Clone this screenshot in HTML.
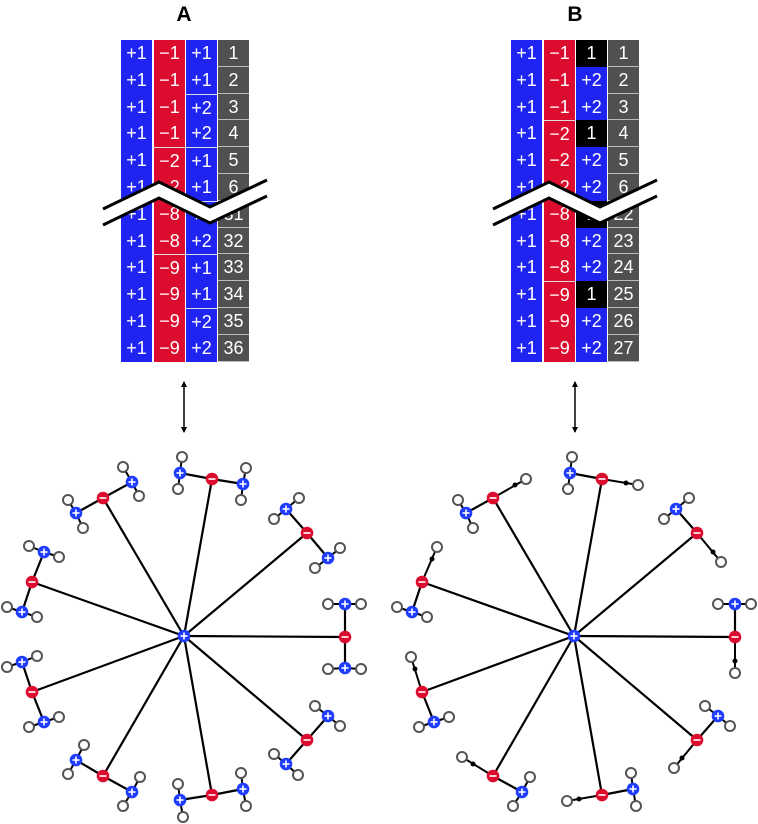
<!DOCTYPE html>
<html><head><meta charset="utf-8"><style>
html,body{margin:0;padding:0;background:#fff;width:758px;height:824px;overflow:hidden;position:relative;font-family:"Liberation Sans",sans-serif}
.h{position:absolute;top:3px;font-weight:bold;font-size:21px;width:40px;text-align:center}
.tbl{position:absolute;top:40px}
.col{position:absolute;top:0;width:31px}
.c{height:26.8px;line-height:26.8px;text-align:center;color:#fff;font-size:18px;box-sizing:border-box}
.b{background:#1f24f2}.r{background:#dc0c2e}.g{background:#505050;border-bottom:1px solid #bbb}.k{background:#000}
.sep{border-top:1px solid #ddd}
svg{position:absolute;left:0;top:0}
</style></head><body>
<div class="h" style="left:164px">A</div>
<div class="h" style="left:555px">B</div>

<div class="tbl" style="left:121px">
<div class="col" style="left:0"><div class="c b">+1</div><div class="c b">+1</div><div class="c b">+1</div><div class="c b">+1</div><div class="c b">+1</div><div class="c b">+1</div><div class="c b">+1</div><div class="c b">+1</div><div class="c b">+1</div><div class="c b">+1</div><div class="c b">+1</div><div class="c b">+1</div></div>
<div class="col" style="left:33px"><div class="c r">−1</div><div class="c r">−1</div><div class="c r">−1</div><div class="c r">−1</div><div class="c r sep">−2</div><div class="c r">−2</div><div class="c r">−8</div><div class="c r">−8</div><div class="c r sep">−9</div><div class="c r">−9</div><div class="c r">−9</div><div class="c r">−9</div></div>
<div class="col" style="left:65px"><div class="c b">+1</div><div class="c b">+1</div><div class="c b sep">+2</div><div class="c b">+2</div><div class="c b sep">+1</div><div class="c b">+1</div><div class="c b sep">+2</div><div class="c b">+2</div><div class="c b sep">+1</div><div class="c b">+1</div><div class="c b sep">+2</div><div class="c b">+2</div></div>
<div class="col" style="left:97px"><div class="c g">1</div><div class="c g">2</div><div class="c g">3</div><div class="c g">4</div><div class="c g">5</div><div class="c g">6</div><div class="c g">31</div><div class="c g">32</div><div class="c g">33</div><div class="c g">34</div><div class="c g">35</div><div class="c g">36</div></div>
</div>

<div class="tbl" style="left:511px">
<div class="col" style="left:0"><div class="c b">+1</div><div class="c b">+1</div><div class="c b">+1</div><div class="c b">+1</div><div class="c b">+1</div><div class="c b">+1</div><div class="c b">+1</div><div class="c b">+1</div><div class="c b">+1</div><div class="c b">+1</div><div class="c b">+1</div><div class="c b">+1</div></div>
<div class="col" style="left:33px"><div class="c r">−1</div><div class="c r">−1</div><div class="c r">−1</div><div class="c r sep">−2</div><div class="c r">−2</div><div class="c r">−2</div><div class="c r">−8</div><div class="c r">−8</div><div class="c r">−8</div><div class="c r sep">−9</div><div class="c r">−9</div><div class="c r">−9</div></div>
<div class="col" style="left:65px"><div class="c k">1</div><div class="c b">+2</div><div class="c b">+2</div><div class="c k">1</div><div class="c b">+2</div><div class="c b">+2</div><div class="c k">1</div><div class="c b">+2</div><div class="c b">+2</div><div class="c k">1</div><div class="c b">+2</div><div class="c b">+2</div></div>
<div class="col" style="left:97px"><div class="c g">1</div><div class="c g">2</div><div class="c g">3</div><div class="c g">4</div><div class="c g">5</div><div class="c g">6</div><div class="c g">22</div><div class="c g">23</div><div class="c g">24</div><div class="c g">25</div><div class="c g">26</div><div class="c g">27</div></div>
</div>

<svg id="s" width="758" height="824" xmlns="http://www.w3.org/2000/svg">
<defs><marker id="ah" markerWidth="6" markerHeight="6" refX="5" refY="3" orient="auto-start-reverse" markerUnits="userSpaceOnUse"><path d="M0,0 L6,3 L0,6 z" fill="#000"/></marker></defs>
<g id="zz"></g>
<line x1="184" y1="382" x2="184" y2="432" stroke="#000" stroke-width="1.5" marker-start="url(#ah)" marker-end="url(#ah)"/>
<line x1="575" y1="382" x2="575" y2="432" stroke="#000" stroke-width="1.5" marker-start="url(#ah)" marker-end="url(#ah)"/>
<g id="mol"></g>
</svg>
<script>
var NS="http://www.w3.org/2000/svg";
function el(p,t,a){var e=document.createElementNS(NS,t);for(var k in a)e.setAttribute(k,a[k]);p.appendChild(e);return e;}
var zz=document.getElementById('zz');
[0,390].forEach(function(o){
 var up=[[103,209],[159,182],[210,207],[267,180]],lo=[[103,225],[159,198],[210,223],[267,196]];
 var pts=up.concat(lo.slice().reverse()).map(function(p){return (p[0]+o)+","+p[1]}).join(" ");
 el(zz,"polygon",{points:pts,fill:"#fff"});
 el(zz,"polyline",{points:up.map(function(p){return (p[0]+o)+","+p[1]}).join(" "),fill:"none",stroke:"#000","stroke-width":3});
 el(zz,"polyline",{points:lo.map(function(p){return (p[0]+o)+","+p[1]}).join(" "),fill:"none",stroke:"#000","stroke-width":3});
});
var M=[
 {r:[103,498],b:[[[132,482],[123,467],[139,496]],[[76,513],[68,500],[83,528]]],rep:0,d:[125,485],h:[136,479]},
 {r:[212,479],b:[[[180,473],[182,457],[178,489]],[[243,484],[246,468],[241,500]]],rep:1,d:[236,483],h:[248,485]},
 {r:[307,533],b:[[[286,509],[299,498],[274,519]],[[328,558],[340,548],[315,568]]],rep:1,d:[323,552],h:[331,562]},
 {r:[345,637],b:[[[345,604],[328,604],[361,604]],[[345,668],[328,669],[361,669]]],rep:1,d:[345,661],h:[345,673]},
 {r:[307,740],b:[[[328,716],[315,706],[340,726]],[[286,764],[274,754],[298,775]]],rep:1,d:[292,758],h:[284,768]},
 {r:[212,795],b:[[[243,789],[241,773],[246,806]],[[180,800],[178,784],[183,817]]],rep:1,d:[189,799],h:[177,801]},
 {r:[103,776],b:[[[132,792],[140,777],[123,806]],[[76,760],[84,745],[68,774]]],rep:1,d:[83,764],h:[72,757]},
 {r:[32,692],b:[[[44,722],[59,717],[29,727]],[[22,662],[37,656],[7,667]]],rep:1,d:[25,669],h:[21,657]},
 {r:[32,582],b:[[[22,612],[7,607],[37,617]],[[44,552],[29,546],[59,557]]],rep:1,d:[42,559],h:[47,547]}
];
var g=document.getElementById('mol');
function H(x,y){el(g,"circle",{cx:x,cy:y,r:5,fill:"#fff",stroke:"#555","stroke-width":2});}
function atom(x,y,pos){el(g,"circle",{cx:x,cy:y,r:6.3,fill:pos?"#1f3cff":"#dc0c2e"});
 el(g,"rect",{x:x-3.5,y:y-0.8,width:7,height:1.6,fill:"#fff"});
 if(pos)el(g,"rect",{x:x-0.8,y:y-3.5,width:1.6,height:7,fill:"#fff"});}
function ln(a,b,w){el(g,"line",{x1:a[0],y1:a[1],x2:b[0],y2:b[1],stroke:"#000","stroke-width":w||2.2});}
[0,1].forEach(function(side){
 var o=side*390,c=[184+o,636];
 function s(p){return [p[0]+o,p[1]];}
 M.forEach(function(m){ln(c,s(m.r));});
 M.forEach(function(m){
  m.b.forEach(function(b,i){
   if(side&&i==m.rep){ln(s(m.r),s(m.h),2);el(g,"circle",{cx:m.d[0]+o,cy:m.d[1],r:2.5,fill:"#000"});H(m.h[0]+o,m.h[1]);return;}
   ln(s(m.r),s(b[0]));ln(s(b[0]),s(b[1]),2);ln(s(b[0]),s(b[2]),2);
   H(b[1][0]+o,b[1][1]);H(b[2][0]+o,b[2][1]);atom(b[0][0]+o,b[0][1],true);
  });
  atom(m.r[0]+o,m.r[1],false);
 });
 atom(c[0],c[1],true);
});
</script>
</body></html>
